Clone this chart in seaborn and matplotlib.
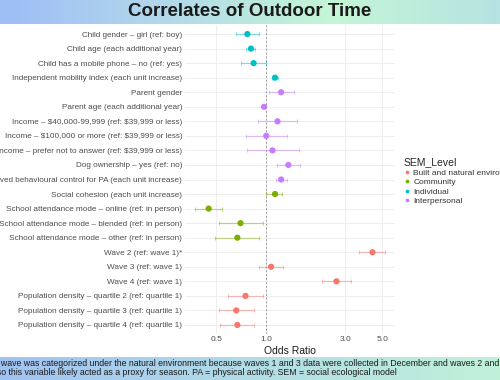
import numpy as np
import pandas as pd
import seaborn as sns
import matplotlib.pyplot as plt
from matplotlib.colors import LinearSegmentedColormap
from matplotlib.ticker import NullLocator


labels = [
    "Child gender – girl (ref: boy)",
    "Child age (each additional year)",
    "Child has a mobile phone – no (ref: yes)",
    "Independent mobility index (each unit increase)",
    "Parent gender",
    "Parent age (each additional year)",
    "Income – \\$40,000-99,999 (ref: \\$39,999 or less)",
    "Income – \\$100,000 or more (ref: \\$39,999 or less)",
    "Income – prefer not to answer (ref: \\$39,999 or less)",
    "Dog ownership – yes (ref: no)",
    "Perceived behavioural control for PA (each unit increase)",
    "Social cohesion (each unit increase)",
    "School attendance mode – online (ref: in person)",
    "School attendance mode – blended (ref: in person)",
    "School attendance mode – other (ref: in person)",
    "Wave 2 (ref: wave 1)*",
    "Wave 3 (ref: wave 1)",
    "Wave 4 (ref: wave 1)",
    "Population density – quartile 2 (ref: quartile 1)",
    "Population density – quartile 3 (ref: quartile 1)",
    "Population density – quartile 4 (ref: quartile 1)",
]
levels = (["Individual"] * 4 + ["Interpersonal"] * 7 + ["Community"] * 4
          + ["Built and natural environment"] * 6)
odds_ratio = [0.77, 0.81, 0.84, 1.13, 1.23, 0.97, 1.17, 1.00, 1.09, 1.36, 1.23,
              1.13, 0.45, 0.70, 0.67, 4.37, 1.07, 2.65, 0.75, 0.66, 0.67]
ci_low = [0.66, 0.76, 0.70, 1.08, 1.04, 0.96, 0.89, 0.76, 0.77, 1.16, 1.15,
          1.00, 0.37, 0.52, 0.49, 3.62, 0.91, 2.18, 0.59, 0.52, 0.53]
ci_high = [0.90, 0.86, 1.00, 1.18, 1.47, 0.99, 1.53, 1.34, 1.58, 1.60, 1.33,
           1.24, 0.54, 0.95, 0.91, 5.23, 1.26, 3.24, 0.95, 0.84, 0.85]

level_order = ["Built and natural environment", "Community", "Individual", "Interpersonal"]
level_colors = ["#F8766D", "#7CAE00", "#00BFC4", "#C77CFF"]
x_ticks = [0.5, 1.0, 3.0, 5.0]

title = "Correlates of Outdoor Time"
caption = [
    "*The wave was categorized under the natural environment because waves 1 and 3 data were collected in December and waves 2 and 4 in June,",
    "also this variable likely acted as a proxy for season. PA = physical activity. SEM = social ecological model",
]

df = pd.DataFrame({"label": labels, "level": levels, "or": odds_ratio,
                   "lo": ci_low, "hi": ci_high})
df["row"] = np.arange(len(df))
palette = dict(zip(level_order, level_colors))

sns.set_theme(style="white")
plt.rcParams["font.family"] = ["Liberation Sans", "DejaVu Sans"]

W, H = 500, 380
fig = plt.figure(figsize=(5, 3.8), dpi=100)
ax = fig.add_axes([185 / W, 1 - 333.7 / H, (395 - 185) / W, (333.7 - 25.3) / H])

# error bars, one group per level so they take the hue colour
for lvl in level_order:
    sub = df[df.level == lvl]
    ax.errorbar(sub["or"], sub["row"], xerr=[sub["or"] - sub["lo"], sub["hi"] - sub["or"]],
                fmt="none", ecolor=palette[lvl], alpha=0.45, elinewidth=0.9,
                capsize=1.5, capthick=0.8, zorder=2)

sns.scatterplot(data=df, x="or", y="row", hue="level", hue_order=level_order,
                palette=palette, s=20, edgecolor="none", ax=ax, zorder=3)

ax.axvline(1, color="#9E9E9E", ls=(0, (2, 2)), lw=0.7, zorder=1)

ax.set_xscale("log")
lmin, lmax = np.log(min(ci_low)), np.log(max(ci_high))
pad = (lmax - lmin) * 0.05
ax.set_xlim(np.exp(lmin - pad), np.exp(lmax + pad))
ax.set_xticks(x_ticks)
ax.set_xticklabels([f"{t:.1f}" for t in x_ticks])
ax.xaxis.set_minor_locator(NullLocator())
ax.set_yticks(df["row"])
ax.set_yticklabels(labels)
ax.set_ylim(len(df) - 0.4, -0.6)

ax.set_axisbelow(True)
ax.grid(True, color="#EBEBEB", lw=0.6)
sns.despine(ax=ax, left=True, bottom=True)
ax.tick_params(length=0, pad=2, labelsize=6, colors="#4D4D4D")
ax.tick_params(axis="y", labelsize=5.85)
ax.set_xlabel("Odds Ratio", fontsize=7.5, labelpad=2, color="#1A1A1A")
ax.set_ylabel("")

leg = ax.legend(title="SEM_Level", loc="upper left", bbox_to_anchor=(399 / W, 1 - 153 / H),
                bbox_transform=fig.transFigure, frameon=False, fontsize=6,
                title_fontsize=7.5, handlelength=0.8, handletextpad=0.4,
                labelspacing=0.2, borderpad=0, markerscale=0.6)
leg._legend_box.align = "left"
for t in leg.get_texts():
    t.set_color("#333333")

# gradient title band
grad = np.linspace(0, 1, 256).reshape(1, -1)
tcmap = LinearSegmentedColormap.from_list("t", ["#9DBDF6", "#B3D9EA", "#C4F6D6", "#B6E3E2"])
tax = fig.add_axes([0, 1 - 24 / H, 1, 24 / H])
tax.imshow(grad, aspect="auto", cmap=tcmap, extent=[0, 1, 0, 1])
tax.axis("off")
tax.text(0.5, 0.5, title, ha="center", va="center", fontsize=13.5,
         fontweight="bold", color="#1A1A1A")

# gradient caption band
ccmap = LinearSegmentedColormap.from_list("c", ["#A0C2F3", "#B2DCE6", "#C0F2D8"])
cax = fig.add_axes([0, 0, 1, 23.5 / H])
cax.imshow(grad, aspect="auto", cmap=ccmap, extent=[0, 1, 0, 1])
cax.axis("off")
cax.set_xlim(0, 1)
cax.text(-0.04, 0.72, caption[0], ha="left", va="center", fontsize=6.3, color="#1A1A1A")
cax.text(-0.02, 0.34, caption[1], ha="left", va="center", fontsize=6.3, color="#1A1A1A")

fig.savefig("out.png", dpi=100)
